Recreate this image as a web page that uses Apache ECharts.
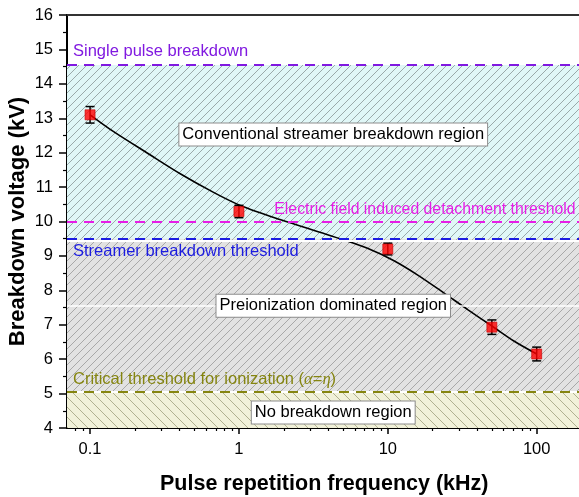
<!DOCTYPE html>
<html>
<head>
<meta charset="utf-8">
<title>Breakdown voltage vs pulse repetition frequency</title>
<script src="https://cdn.jsdelivr.net/npm/echarts@6/dist/echarts.min.js"></script>
<style>
  html, body { margin: 0; padding: 0; background: #fff; }
  #chart { width: 579px; height: 497px; }
</style>
</head>
<body>
<div id="chart"></div>
<script>
// Measured breakdown voltages
const frequency = [0.1, 1, 10, 50, 100];          // kHz
const voltage = [13.1, 10.29, 9.2, 6.93, 6.15];   // kV
const voltageError = [0.24, 0.18, 0.17, 0.21, 0.2];

// Fitted trend curve
const fitFrequency = [0.1, 0.144, 0.242, 0.406, 0.68, 1.03, 1.91, 3.54, 5.08, 7.3, 11.0, 15.8, 23.9, 34.4, 50.6, 70.7, 100];
const fitVoltage = [13.1, 12.61, 11.99, 11.38, 10.84, 10.46, 10.05, 9.68, 9.46, 9.22, 8.86, 8.45, 7.92, 7.44, 6.95, 6.52, 6.15];

// Threshold levels (kV)
const singlePulseLevel = 14.55;
const detachmentLevel = 10.0;
const streamerLevel = 9.5;
const ionizationLevel = 5.05;
const preionizationMidLevel = 7.55;

// Axis ticks
const majorTicks = [0.1, 1, 10, 100];
const minorTicks = [0.08, 0.09, 0.2, 0.3, 0.4, 0.5, 0.6, 0.7, 0.8, 0.9,
  2, 3, 4, 5, 6, 7, 8, 9, 20, 30, 40, 50, 60, 70, 80, 90];

// Region captions
const regionLabels = ['Conventional streamer breakdown region', 'Preionization dominated region', 'No breakdown region'];
const regionLabelLevels = [12.53, 7.55, 4.45];

const FONT = '"Liberation Sans", Arial, Helvetica, sans-serif';
const X_MIN = 0.07, X_MAX = 200;

// Hatched fill: a small tile with a background and one diagonal stroke
function hatch(bg, stroke, size, rising) {
  const c = document.createElement('canvas');
  c.width = size; c.height = size;
  const g = c.getContext('2d');
  g.fillStyle = bg;
  g.fillRect(0, 0, size, size);
  g.strokeStyle = stroke;
  g.lineWidth = 1;
  g.beginPath();
  for (let k = -1; k <= 1; k++) {
    if (rising) {
      g.moveTo(k * size, size); g.lineTo(k * size + size, 0);
    } else {
      g.moveTo(k * size, 0); g.lineTo(k * size + size, size);
    }
  }
  g.stroke();
  return { image: c, repeat: 'repeat' };
}

const cyanFill = hatch('#e0f7f7', '#9aaaaa', 8, true);
const grayFill = hatch('#e2e2e2', '#a8a8a8', 8, true);
const yellowFill = hatch('#f1f1d9', '#b0b090', 10, false);

const labelFont = { fontFamily: FONT, fontSize: 16.5 };

function dashed(level, color, text, position, distance, extra) {
  return {
    yAxis: level,
    lineStyle: { color: color, type: [10, 7], width: 2 },
    label: Object.assign({
      show: true, position: position, distance: distance,
      formatter: text, color: color
    }, labelFont, extra || {})
  };
}

const chart = echarts.init(document.getElementById('chart'), null, { renderer: 'canvas' });

chart.setOption({
  animation: false,
  backgroundColor: '#fff',
  textStyle: { fontFamily: FONT },
  grid: { left: 67, top: 15, width: 514.5, height: 413, outerBoundsMode: 'none', containLabel: false },
  xAxis: [
    {
      type: 'log', min: X_MIN, max: X_MAX, position: 'bottom',
      name: 'Pulse repetition frequency (kHz)', nameLocation: 'middle', nameGap: 45,
      nameMoveOverlap: false,
      nameTextStyle: { fontFamily: FONT, fontSize: 21.5, fontWeight: 'bold', color: '#000' },
      axisLine: { onZero: false, lineStyle: { color: '#000', width: 2 } },
      axisTick: { customValues: majorTicks, length: 6, lineStyle: { color: '#000', width: 1.5 } },
      axisLabel: { customValues: majorTicks, formatter: v => String(v), margin: 13, color: '#000', fontFamily: FONT, fontSize: 16.5 },
      splitLine: { show: false }
    },
    {
      type: 'log', min: X_MIN, max: X_MAX, position: 'bottom',
      axisLine: { show: false, onZero: false },
      axisTick: { customValues: minorTicks, length: 3, lineStyle: { color: '#000', width: 1.2 } },
      axisLabel: { show: false },
      splitLine: { show: false }
    },
    {
      type: 'log', min: X_MIN, max: X_MAX, position: 'top',
      axisLine: { show: true, onZero: false, lineStyle: { color: '#333', width: 2 } },
      axisTick: { show: false },
      axisLabel: { show: false },
      splitLine: { show: false }
    }
  ],
  yAxis: {
    type: 'value', min: 4, max: 16, interval: 1,
    name: 'Breakdown voltage (kV)', nameLocation: 'middle', nameGap: 38,
    nameMoveOverlap: false,
    nameTextStyle: { fontFamily: FONT, fontSize: 22, fontWeight: 'bold', color: '#000' },
    axisLine: { show: true, lineStyle: { color: '#000', width: 2 } },
    axisTick: { length: 8, lineStyle: { color: '#000', width: 1.5 } },
    minorTick: { show: true, splitNumber: 2, length: 4, lineStyle: { color: '#000', width: 1.2 } },
    axisLabel: { margin: 14, color: '#000', fontFamily: FONT, fontSize: 16.5 },
    splitLine: { show: false },
    minorSplitLine: { show: false }
  },
  series: [
    {
      name: 'Fit',
      type: 'line',
      xAxisIndex: 0,
      data: fitFrequency.map((f, i) => [f, fitVoltage[i]]),
      smooth: 0.3,
      symbol: 'none',
      lineStyle: { color: '#000', width: 1.6 },
      z: 3,
      markArea: {
        silent: true,
        data: [
          [{ yAxis: streamerLevel, itemStyle: { color: cyanFill } }, { yAxis: singlePulseLevel }],
          [{ yAxis: ionizationLevel, itemStyle: { color: grayFill } }, { yAxis: streamerLevel }],
          [{ yAxis: 4, itemStyle: { color: yellowFill } }, { yAxis: ionizationLevel }]
        ]
      },
      markLine: {
        silent: true,
        symbol: 'none',
        data: [
          { yAxis: preionizationMidLevel, lineStyle: { color: '#fff', type: 'solid', width: 1.6 }, label: { show: false } },
          { yAxis: streamerLevel - 0.05, lineStyle: { color: '#fff', type: 'solid', width: 2 }, label: { show: false } },
          { yAxis: ionizationLevel, lineStyle: { color: '#fff', type: 'solid', width: 2 }, label: { show: false } },
          dashed(singlePulseLevel, '#8019e0', 'Single pulse breakdown', 'insideStartTop', [6, 5]),
          dashed(detachmentLevel, '#e61ee6', 'Electric field induced detachment threshold', 'insideEndTop', [6, 4], { fontSize: 15.8 }),
          dashed(streamerLevel, '#1c1ce0', 'Streamer breakdown threshold', 'insideStartBottom', [6, 4]),
          dashed(ionizationLevel, '#858510', 'Critical threshold for ionization ({i|α}={i|η})', 'insideStartTop', [6, 4], {
            rich: { i: { fontFamily: '"Liberation Serif", "DejaVu Serif", serif', fontStyle: 'italic', fontSize: 16.5, color: '#858510' } }
          })
        ]
      }
    },
    {
      name: 'Error',
      type: 'custom',
      xAxisIndex: 0,
      data: frequency.map((f, i) => [f, voltage[i], voltageError[i]]),
      encode: { x: 0, y: 1 },
      z: 4,
      renderItem: function (params, api) {
        const x = api.value(0), y = api.value(1), e = api.value(2);
        const hi = api.coord([x, y + e]);
        const lo = api.coord([x, y - e]);
        const w = 4.5;
        const style = { stroke: '#000', lineWidth: 1.5 };
        return {
          type: 'group',
          children: [
            { type: 'line', shape: { x1: hi[0], y1: hi[1], x2: lo[0], y2: lo[1] }, style: style },
            { type: 'line', shape: { x1: hi[0] - w, y1: hi[1], x2: hi[0] + w, y2: hi[1] }, style: style },
            { type: 'line', shape: { x1: lo[0] - w, y1: lo[1], x2: lo[0] + w, y2: lo[1] }, style: style }
          ]
        };
      }
    },
    {
      name: 'Breakdown voltage',
      type: 'scatter',
      xAxisIndex: 0,
      data: frequency.map((f, i) => [f, voltage[i]]),
      symbol: 'rect',
      symbolSize: 10,
      itemStyle: { color: '#ff0000', borderColor: '#c80000', borderWidth: 0.8 },
      z: 5,
      markPoint: {
        silent: true,
        symbol: 'rect',
        symbolSize: 0,
        data: regionLabels.map((t, i) => ({
          coord: [4.3, regionLabelLevels[i]],
          label: {
            show: true, position: 'inside', formatter: t,
            color: '#000', fontFamily: FONT, fontSize: 16.5,
            backgroundColor: '#fff', borderColor: '#8c8c8c', borderWidth: 1,
            padding: [3, 3, 2, 3]
          }
        }))
      }
    }
  ]
});
</script>
</body>
</html>
